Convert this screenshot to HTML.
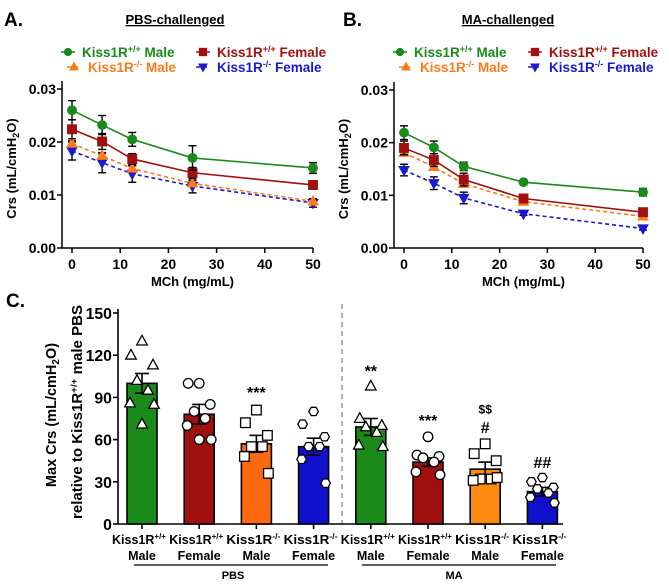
<!DOCTYPE html>
<html><head><meta charset="utf-8"><style>
html,body{margin:0;padding:0;background:#fff;overflow:hidden;}
svg{display:block;font-family:"Liberation Sans",Arial,sans-serif;}
</style></head><body>
<svg id="fig" width="669" height="586" viewBox="0 0 669 586" xmlns="http://www.w3.org/2000/svg"></svg>
<script>
const doses=[0,6.25,12.5,25,50];
const yTicksLine=[0,0.01,0.02,0.03];
const yTickLabelsLine=["0.00","0.01","0.02","0.03"];
const xTicksLine=[0,10,20,30,40,50];
const seriesNames=["wt-male","wt-female","ko-male","ko-female"];
const seriesColors=["#1a8a1a","#a01010","#ff7a1a","#1a1acc"];
const pbsWtMale=[0.026,0.0232,0.0205,0.017,0.0151];
const pbsWtMaleErr=[0.0018,0.0018,0.0013,0.0023,0.001];
const pbsWtFemale=[0.0224,0.0201,0.0168,0.0142,0.0119];
const pbsWtFemaleErr=[0.0018,0.0015,0.001,0.001,0.0008];
const pbsKoMale=[0.0197,0.0174,0.015,0.0122,0.0088];
const pbsKoMaleErr=[0.0005,0.0005,0.0005,0.0005,0.0004];
const pbsKoFemale=[0.0183,0.0161,0.014,0.0117,0.0085];
const pbsKoFemaleErr=[0.0017,0.0019,0.0016,0.0013,0.0008];
const maWtMale=[0.0219,0.0191,0.0155,0.0125,0.0106];
const maWtMaleErr=[0.0013,0.0012,0.0008,0.0004,0.0007];
const maWtFemale=[0.019,0.0167,0.013,0.0094,0.0068];
const maWtFemaleErr=[0.0013,0.0012,0.0012,0.0008,0.0004];
const maKoMale=[0.0181,0.0154,0.0122,0.0088,0.006];
const maKoMaleErr=[0.0006,0.0006,0.0006,0.0005,0.0004];
const maKoFemale=[0.0148,0.0123,0.0095,0.0065,0.0037];
const maKoFemaleErr=[0.0011,0.0012,0.0011,0.0003,0.0003];

const barGroups=["PBS WT Male","PBS WT Female","PBS KO Male","PBS KO Female","MA WT Male","MA WT Female","MA KO Male","MA KO Female"];
const barValues=[100,78,57,55,69,44,39,23];
const barErrors=[7,7,6,6,6,3,5,3];
const barColors=["#1a8a1a","#a01010","#ff6a10","#1010cc","#1a8a1a","#a01010","#ff8a10","#1010cc"];
const barShapes=["tri","circ","sq","hex","tri","circ","sq","hex"];
const barPoints=[[130,120,113,102,95,86,85,71],[100,100,85,80,75,70,60,60],[81,72,63,55,55,48,36],[80,71,62,55,55,46,29],[98,75,70,69,65,56,55],[62,49,48,47,44,37,35],[57,50,45,32,32,31,33],[33,30,26,25,22,19,15]];
const barTopLabels=["","","***","","**","***","#","##"];
const barTopLabelValues=[0,0,94,0,109,74,69,44];
const yTicksBar=[0,30,60,90,120,150];
const genoLabels=["+/+","+/+","-/-","-/-","+/+","+/+","-/-","-/-"];
const sexLabels=["Male","Female","Male","Female","Male","Female","Male","Female"];

const NS="http://www.w3.org/2000/svg";
const svg=document.getElementById('fig');
function mk(tag,attrs,parent){const e=document.createElementNS(NS,tag);for(const k in attrs)e.setAttribute(k,attrs[k]);(parent||svg).appendChild(e);return e;}
function txt(x,y,s,attrs,parent){const t=mk('text',Object.assign({x:x,y:y},attrs),parent);t.textContent=s;return t;}
function marker(g,shape,x,y,r,fill,stroke){
  if(shape==='circ')return mk('circle',{cx:x,cy:y,r:r,fill:fill,stroke:stroke,'stroke-width':1.3},g);
  if(shape==='sq')return mk('rect',{x:x-r,y:y-r,width:2*r,height:2*r,fill:fill,stroke:stroke,'stroke-width':1.3},g);
  if(shape==='tri')return mk('polygon',{points:`${x},${y-r*1.2} ${x-r*1.1},${y+r*0.8} ${x+r*1.1},${y+r*0.8}`,fill:fill,stroke:stroke,'stroke-width':1.3},g);
  if(shape==='itri')return mk('polygon',{points:`${x},${y+r*1.2} ${x-r*1.1},${y-r*0.8} ${x+r*1.1},${y-r*0.8}`,fill:fill,stroke:stroke,'stroke-width':1.3},g);
  if(shape==='hex'){let p=[];for(let i=0;i<6;i++){const a=Math.PI/3*i;p.push((x+r*Math.cos(a)).toFixed(1)+','+(y+r*Math.sin(a)).toFixed(1));}return mk('polygon',{points:p.join(' '),fill:fill,stroke:stroke,'stroke-width':1.3},g);}
}
const lineShapes=["circ","sq","tri","itri"];
const lineDash=[null,null,"4,3","4,3"];

function linePanel(name,ax,x0,x50,y0,y3,letter,title,titleX,data,errs){
  const g=mk('g',{});
  
  
  const X=v=>x0+(x50-x0)*v/50, Y=v=>y0+(y3-y0)*v/0.03;
  const pl=txt(letter==='A.'?4:343,26,letter,{'font-size':19,'font-weight':'bold'},g);
  
  const tt=txt(titleX,24,title,{'font-size':13,'font-weight':'bold','text-anchor':'middle','text-decoration':'underline'},g);
  
  const lg=mk('g',{},g);
  
  const lx=[ax+6,ax+141,ax+6,ax+141], ly=[52,52,67,67];
  const labs=[["Kiss1R","+/+"," Male"],["Kiss1R","+/+"," Female"],["Kiss1R","-/-"," Male"],["Kiss1R","-/-"," Female"]];
  const offs=[0,0,6,0];
  for(let i=0;i<4;i++){
    const e=mk('g',{},lg);
    
    const mx=lx[i]+offs[i];
    mk('line',{x1:mx-7,y1:ly[i],x2:mx+7,y2:ly[i],stroke:seriesColors[i],'stroke-width':1.5,'stroke-dasharray':lineDash[i]||'none'},e);
    marker(e,lineShapes[i],mx,ly[i],3.5,seriesColors[i],seriesColors[i]);
    const t=txt(mx+14,ly[i]+5,'',{'font-size':13.5,'font-weight':'bold',fill:seriesColors[i]},e);
    const a=mk('tspan',{},t);a.textContent=labs[i][0];
    const b=mk('tspan',{dy:-5,'font-size':9},t);b.textContent=labs[i][1];
    const c=mk('tspan',{dy:5},t);c.textContent=labs[i][2];
  }
  const axg=mk('g',{},g);
  
  mk('line',{x1:ax,y1:y3-8,x2:ax,y2:y0,stroke:'#000','stroke-width':1.5},axg);
  mk('line',{x1:ax,y1:y0,x2:x50,y2:y0,stroke:'#000','stroke-width':1.5},axg);
  yTicksLine.forEach((v,i)=>{mk('line',{x1:ax-5,y1:Y(v),x2:ax,y2:Y(v),stroke:'#000','stroke-width':1.5},axg);
    const t=txt(ax-6,Y(v)+5,yTickLabelsLine[i],{'font-size':14,'font-weight':'bold','text-anchor':'end'},axg);
    });
  xTicksLine.forEach(v=>{mk('line',{x1:X(v),y1:y0,x2:X(v),y2:y0+5,stroke:'#000','stroke-width':1.5},axg);
    const t=txt(X(v),y0+21,String(v),{'font-size':14,'font-weight':'bold','text-anchor':'middle'},axg);
    });
  const xt=txt((x0+x50)/2,286,'MCh (mg/mL)',{'font-size':13,'font-weight':'bold','text-anchor':'middle'},axg);
  
  const yt=mk('text',{transform:`translate(${ax-46},${(y0+y3)/2}) rotate(-90)`,'font-size':13,'font-weight':'bold','text-anchor':'middle'},axg);
  
  const s1=mk('tspan',{},yt);s1.textContent='Crs (mL/cmH';
  const s2=mk('tspan',{dy:3,'font-size':9},yt);s2.textContent='2';
  const s3=mk('tspan',{dy:-3},yt);s3.textContent='O)';
  for(let i=3;i>=0;i--){
    const sg=mk('g',{},g);
    
    const d=data[i],e=errs[i];
    mk('polyline',{points:doses.map((x,j)=>X(x)+','+Y(d[j])).join(' '),fill:'none',stroke:seriesColors[i],'stroke-width':1.6,'stroke-dasharray':lineDash[i]||'none'},sg);
    doses.forEach((x,j)=>{
      const cx=X(x),hi=Y(d[j]+e[j]),lo=Y(d[j]-e[j]);
      mk('line',{x1:cx,y1:hi,x2:cx,y2:lo,stroke:'#000','stroke-width':1.4},sg);
      mk('line',{x1:cx-4,y1:hi,x2:cx+4,y2:hi,stroke:'#000','stroke-width':1.4},sg);
      mk('line',{x1:cx-4,y1:lo,x2:cx+4,y2:lo,stroke:'#000','stroke-width':1.4},sg);
      const m=marker(sg,lineShapes[i],cx,Y(d[j]),4.3,seriesColors[i],seriesColors[i]);
      
    });
  }
}
linePanel('panel-a-pbs',62,72,313,248,89,'A.','PBS-challenged',175,[pbsWtMale,pbsWtFemale,pbsKoMale,pbsKoFemale],[pbsWtMaleErr,pbsWtFemaleErr,pbsKoMaleErr,pbsKoFemaleErr]);
linePanel('panel-b-ma',394,404,643,248,90,'B.','MA-challenged',508,[maWtMale,maWtFemale,maKoMale,maKoFemale],[maWtMaleErr,maWtFemaleErr,maKoMaleErr,maKoFemaleErr]);

(function(){
  const g=mk('g',{});
  
  const ax=118,y0=524,y150=313,c0=142,step=57.2,bw=30;
  const Y=v=>y0+(y150-y0)*v/150, CX=i=>c0+step*i;
  const pl=txt(6,307,'C.',{'font-size':19,'font-weight':'bold'},g);
  
  mk('line',{x1:342,y1:304,x2:342,y2:524,stroke:'#999','stroke-width':1.5,'stroke-dasharray':'5,4'},g);
  mk('line',{x1:ax,y1:y150-4,x2:ax,y2:y0,stroke:'#000','stroke-width':1.6},g);
  mk('line',{x1:ax,y1:y0,x2:563,y2:y0,stroke:'#000','stroke-width':1.6},g);
  yTicksBar.forEach(v=>{mk('line',{x1:ax-5,y1:Y(v),x2:ax,y2:Y(v),stroke:'#000','stroke-width':1.6},g);
    const t=txt(ax-6,Y(v)+6,String(v),{'font-size':15.5,'font-weight':'bold','text-anchor':'end','textLength':String(v).length*8.8,'lengthAdjust':'spacingAndGlyphs'},g);
    });
  const yt=mk('text',{transform:`translate(56,415) rotate(-90)`,'font-size':14.5,'font-weight':'bold','text-anchor':'middle'},g);
  
  let a=mk('tspan',{},yt);a.textContent='Max Crs (mL/cmH';
  a=mk('tspan',{dy:3,'font-size':10},yt);a.textContent='2';
  a=mk('tspan',{dy:-3},yt);a.textContent='O)';
  const yt2=mk('text',{transform:`translate(82,412) rotate(-90)`,'font-size':14.5,'font-weight':'bold','text-anchor':'middle','textLength':214,'lengthAdjust':'spacingAndGlyphs'},g);
  
  a=mk('tspan',{},yt2);a.textContent='relative to Kiss1R';
  a=mk('tspan',{dy:-5,'font-size':9.5},yt2);a.textContent='+/+';
  a=mk('tspan',{dy:5},yt2);a.textContent=' male PBS';
  barValues.forEach((v,i)=>{
    const bg=mk('g',{},g);
    
    const cx=CX(i);
    mk('rect',{x:cx-bw/2,y:Y(v),width:bw,height:y0-Y(v),fill:barColors[i],stroke:'#000','stroke-width':1.6},bg);
    const hi=Y(v+barErrors[i]),lo=Y(v-barErrors[i]);
    mk('line',{x1:cx,y1:hi,x2:cx,y2:lo,stroke:'#000','stroke-width':1.6},bg);
    mk('line',{x1:cx-7,y1:hi,x2:cx+7,y2:hi,stroke:'#000','stroke-width':1.6},bg);
    mk('line',{x1:cx-7,y1:lo,x2:cx+7,y2:lo,stroke:'#000','stroke-width':1.6},bg);
    const offs=[0,-11,11,-5,6,-12,12,0];
    barPoints[i].forEach((p,j)=>{
      const m=marker(bg,barShapes[i],cx+offs[j%offs.length],Y(p),4.8,'#fff','#000');
      
    });
    if(barTopLabels[i]){
      const t=txt(cx,Y(barTopLabelValues[i])+6,barTopLabels[i],{'font-size':16,'font-weight':'bold','text-anchor':'middle'},bg);
      
    }
    if(i===6){const t=txt(cx,Y(82)+5,'$$',{'font-size':12,'font-weight':'bold','text-anchor':'middle'},bg);
      }
    mk('line',{x1:cx,y1:y0,x2:cx,y2:y0+5,stroke:'#000','stroke-width':1.6},bg);
    const l1=txt(cx-3,544,'',{'font-size':12.5,'font-weight':'bold','text-anchor':'middle','textLength':54,'lengthAdjust':'spacingAndGlyphs'},bg);
    
    let s=mk('tspan',{},l1);s.textContent='Kiss1R';
    s=mk('tspan',{dy:-5,'font-size':8},l1);s.textContent=genoLabels[i];
    const l2=txt(cx,560,sexLabels[i],{'font-size':12.5,'font-weight':'bold','text-anchor':'middle'},bg);
    
  });
  mk('line',{x1:134,y1:565,x2:328,y2:565,stroke:'#000','stroke-width':1.3},g);
  mk('line',{x1:362,y1:565,x2:556,y2:565,stroke:'#000','stroke-width':1.3},g);
  let t=txt(233,579,'PBS',{'font-size':11,'font-weight':'bold','text-anchor':'middle'},g);
  
  t=txt(454,579,'MA',{'font-size':11,'font-weight':'bold','text-anchor':'middle'},g);
  
})();
</script>
</body></html>
